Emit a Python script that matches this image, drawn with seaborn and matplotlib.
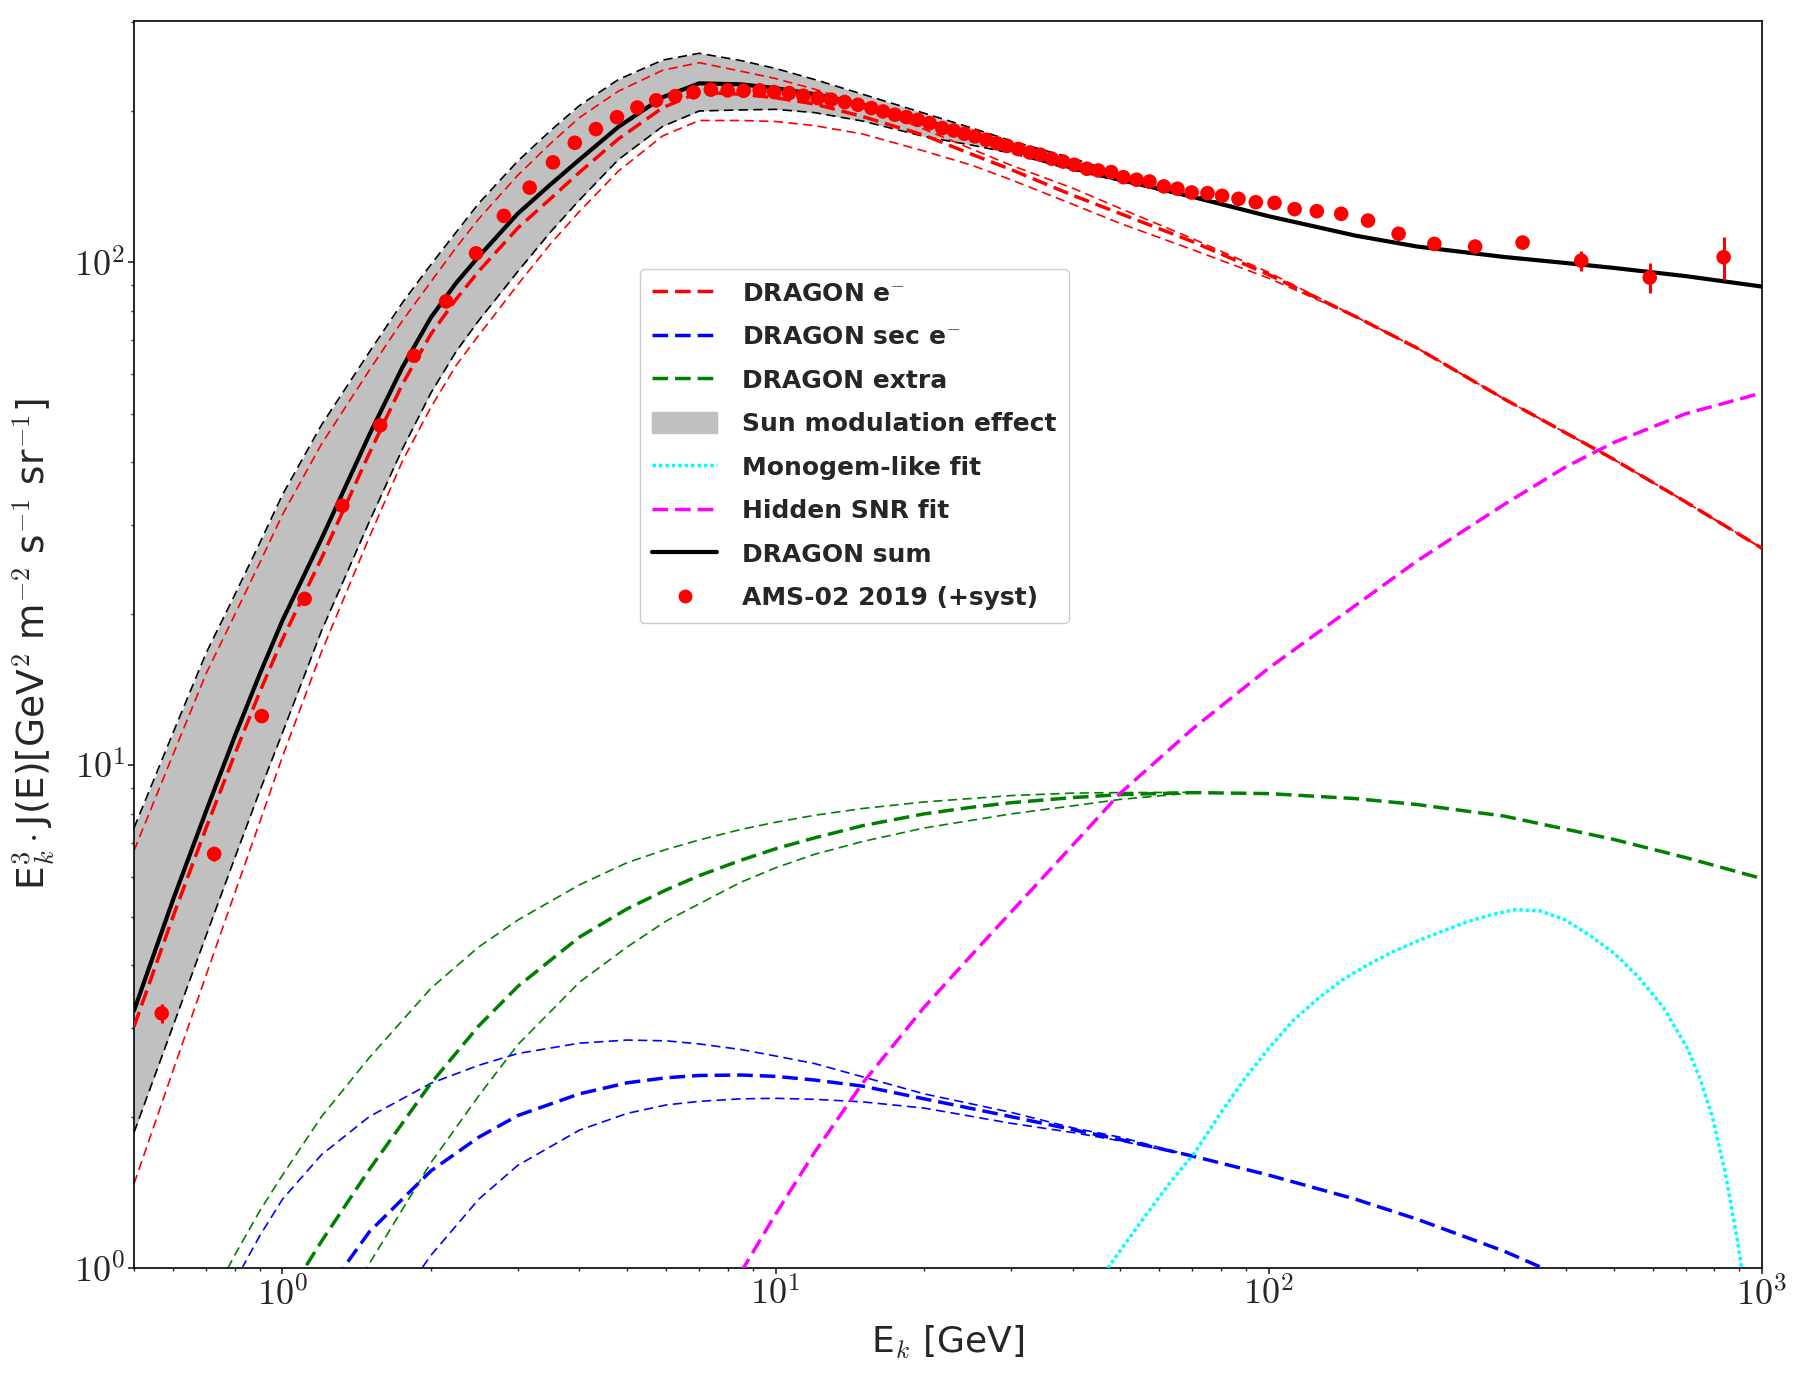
import numpy as np
import matplotlib
matplotlib.use("Agg")
import matplotlib.pyplot as plt
import seaborn as sns
from matplotlib.lines import Line2D
from matplotlib.patches import Patch
from matplotlib.ticker import FuncFormatter, LogLocator, NullFormatter

# ---------------- data ----------------
E_GRID = [0.5, 0.6, 0.7, 0.8, 0.9, 1.0, 1.2, 1.5, 1.75, 2.0, 2.25, 2.5, 3.0, 3.5, 4.0, 4.8, 5.9, 7.0,
          8.5, 10, 12, 15, 20, 25, 30, 40, 50, 70, 100, 150, 200, 300, 400, 500, 700, 1000]

SUM = [3.25, 5.4, 8.1, 11.4, 15.2, 19.4, 28.2, 45.4, 61.8, 77.7, 91.0, 102.7, 125, 143, 160, 186, 213, 227,
       226, 222, 216, 206, 192, 178, 168, 154, 146, 135, 123.5, 113, 107.5, 102.5, 99.7, 97.5, 93.9, 89.5]
SUM_UP = [7.5, 11.6, 16.7, 21.8, 27.7, 34.5, 47.5, 66.3, 83.1, 99, 114.8, 131, 159, 183, 205, 231, 252.5, 260.5,
          252, 243, 231, 216, 198, 185, 174.5, 161, 150, 136.5, 123.5, 113, 107.5, 102.5, 99.7, 97.5, 93.9, 89.5]
SUM_LO = [1.86, 3.03, 4.58, 6.53, 8.9, 11.6, 18.5, 30.5, 42.5, 55, 66.5, 76.6, 95.9, 115.1, 133, 160.1, 186.4, 200,
          201, 201.5, 198.5, 191, 178, 171, 165, 152.5, 145, 134.5, 123.5, 113, 107.5, 102.5, 99.7, 97.5, 93.9, 89.5]

ELEC = [3.02, 5.0, 7.5, 10.5, 14.0, 17.8, 25.8, 41.7, 57.2, 72, 84.5, 96, 117, 134, 151, 176, 203, 218,
        216, 212.5, 206.5, 195, 179, 164, 153, 136, 125, 110, 94.5, 78, 67.5, 53.5, 45.8, 40.6, 33.4, 27]
ELEC_UP = [6.76, 10.5, 15.2, 19.9, 25.3, 31.5, 43.5, 61, 76.5, 91.5, 107, 122, 149, 172.5, 194, 219, 241, 249.5,
           240, 232, 221, 206, 184, 168, 156, 140.5, 128, 111.5, 95.5, 78, 67.5, 53.5, 45.8, 40.6, 33.4, 27]
ELEC_LO = [1.47, 2.47, 3.82, 5.56, 7.72, 10.4, 16.8, 28.4, 40.2, 51.5, 62.4, 71.6, 90.3, 109, 126.2, 151.9, 178.4, 191.5,
           191.5, 190.6, 187, 180, 166.5, 156, 146, 130.5, 119.5, 106, 93, 78, 67.5, 53.5, 45.8, 40.6, 33.4, 27]

E_GREEN = [1.0, 1.2, 1.5, 2.0, 2.5, 3.0, 4.0, 5.0, 6.0, 7.0, 8.5, 10, 12, 15, 20, 25, 30, 40, 50, 70,
           100, 150, 200, 300, 500, 700, 1000]
GREEN = [0.85, 1.13, 1.57, 2.33, 3.03, 3.63, 4.55, 5.18, 5.65, 6.03, 6.47, 6.82, 7.17, 7.58, 8.0, 8.25, 8.42,
         8.62, 8.74, 8.82, 8.78, 8.58, 8.35, 7.92, 7.12, 6.55, 5.95]
E_GREEN_UP = [0.75, 0.8, 0.9, 1.0, 1.2, 1.5, 2.0, 2.5, 3.0, 4.0, 5.0, 6.0, 7.0, 8.5, 10, 12, 15, 20, 30, 40, 50, 70]
GREEN_UP = [0.94, 1.06, 1.3, 1.53, 2.0, 2.62, 3.6, 4.35, 4.92, 5.78, 6.4, 6.8, 7.1, 7.45, 7.7, 7.95, 8.2,
            8.45, 8.7, 8.8, 8.82, 8.83]
E_GREEN_LO = [1.45, 1.5, 2.0, 2.5, 3.0, 4.0, 5.0, 6.0, 7.0, 8.5, 10, 12, 15, 20, 30, 40, 50, 70]
GREEN_LO = [0.97, 1.02, 1.62, 2.2, 2.78, 3.7, 4.35, 4.9, 5.3, 5.85, 6.25, 6.65, 7.05, 7.5, 8.0, 8.3, 8.55, 8.81]

E_BLUE = [1.2, 1.5, 2.0, 2.5, 3.0, 4.0, 5.0, 6.0, 7.0, 8.5, 10, 12, 15, 20, 30, 50, 70, 100, 150, 200, 300, 400, 500]
BLUE = [0.87, 1.18, 1.56, 1.82, 2.01, 2.22, 2.335, 2.39, 2.415, 2.42, 2.405, 2.365, 2.3, 2.17, 2.0, 1.8, 1.67,
        1.53, 1.37, 1.25, 1.08, 0.955, 0.85]
E_BLUE_UP = [0.8, 0.9, 1.0, 1.2, 1.5, 2.0, 2.5, 3.0, 4.0, 5.0, 6.0, 7.0, 8.5, 10, 12, 15, 20, 30, 40, 50, 70]
BLUE_UP = [0.94, 1.16, 1.37, 1.68, 2.0, 2.33, 2.53, 2.67, 2.8, 2.84, 2.83, 2.79, 2.72, 2.64, 2.55, 2.4, 2.22,
           2.04, 1.9, 1.82, 1.67]
E_BLUE_LO = [1.85, 2.0, 2.5, 3.0, 4.0, 5.0, 6.0, 7.0, 8.5, 10, 12, 15, 20, 30, 40, 50, 70]
BLUE_LO = [0.95, 1.06, 1.37, 1.6, 1.88, 2.03, 2.11, 2.145, 2.17, 2.175, 2.165, 2.14, 2.08, 1.94, 1.86, 1.79, 1.67]

E_SNR = [8.5, 10, 12, 15, 20, 25, 30, 40, 50, 70, 100, 150, 200, 300, 400, 500, 700, 1000]
SNR = [0.98, 1.28, 1.7, 2.33, 3.3, 4.2, 5.1, 6.93, 8.8, 11.8, 15.6, 20.8, 25.5, 33, 39.2, 43.8, 50, 55]

E_MONO = [44.7, 50.1, 56.2, 63.1, 70.8, 79.4, 89.1, 100, 112, 126, 141, 158, 178, 200, 224, 251, 282, 316,
          355, 398, 447, 501, 562, 631, 708, 750, 794, 841, 891, 912, 955]
MONO = [0.93, 1.087, 1.27, 1.48, 1.697, 2.016, 2.37, 2.735, 3.105, 3.44, 3.74, 4.0, 4.25, 4.47, 4.67, 4.87, 5.04,
        5.16, 5.13, 4.93, 4.59, 4.23, 3.79, 3.30, 2.72, 2.37, 1.99, 1.56, 1.14, 0.98, 0.69]

AMS_E = [0.569, 0.727, 0.908, 1.109, 1.322, 1.578, 1.847, 2.147, 2.469, 2.812,
         3.171, 3.536, 3.915, 4.321, 4.768, 5.243, 5.724, 6.258, 6.815, 7.389,
         7.99, 8.61, 9.28, 9.93, 10.65, 11.38, 12.17, 12.96, 13.81, 14.69,
         15.63, 16.51, 17.45, 18.41, 19.43, 20.52, 21.76, 22.95, 24.13, 25.37,
         26.72, 28.08, 29.48, 31.04, 32.75, 34.43, 36.31, 38.24, 40.35, 42.77,
         45.11, 47.91, 50.71, 53.94, 57.28, 61.24, 65.27, 69.74, 75.1, 80.4,
         86.8, 94.1, 102.7, 112.8, 125.1, 140.2, 158.9, 183.3, 216.6, 262,
         327, 430, 592, 836]
AMS_Y = [3.21, 6.66, 12.52, 21.42, 32.81, 47.40, 65.22, 83.64, 104.2, 123.7,
         140.8, 158.1, 172.9, 184.1, 194.4, 203.2, 210.0, 214.1, 217.9, 220.5,
         219.8, 219.4, 219.8, 218.1, 217.1, 214.5, 212.2, 210.6, 208.4, 205.8,
         202.7, 199.6, 196.6, 194.5, 192.1, 189.2, 184.9, 182.9, 180.2, 178.0,
         175.3, 172.6, 170.5, 168.0, 165.4, 163.7, 160.7, 158.7, 156.3, 153.5,
         152.3, 151.2, 147.7, 146.0, 144.8, 141.6, 140.1, 137.7, 137.3, 135.6,
         133.8, 131.7, 131.3, 127.6, 126.4, 124.9, 121.1, 114.0, 108.8, 107.5,
         109.5, 100.8, 93.3, 102.4]
AMS_ERR = [0.14, 0.2, 0.0, 0.0, 0.0, 0.0, 0.0, 0.0, 0.0, 0.0,
           0.0, 0.0, 0.0, 0.0, 0.0, 0.0, 0.0, 0.0, 0.0, 0.0,
           0.0, 0.0, 0.0, 0.0, 0.0, 0.0, 0.0, 0.0, 0.0, 0.0,
           0.0, 0.0, 0.0, 0.0, 0.0, 0.0, 0.0, 0.0, 0.0, 0.0,
           0.0, 0.0, 0.0, 0.0, 0.0, 0.0, 0.0, 0.0, 0.0, 0.0,
           0.0, 0.0, 0.0, 0.0, 0.0, 0.0, 0.0, 0.0, 0.0, 0.0,
           0.0, 0.0, 0.0, 0.0, 0.0, 0.0, 0.0, 1.5, 2.0, 2.5,
           3.0, 4.5, 6.5, 10.0]

LEGEND_LABELS = [r"DRAGON e$^{-}$", r"DRAGON sec e$^{-}$", "DRAGON extra", "Sun modulation effect",
                 "Monogem-like fit", "Hidden SNR fit", "DRAGON sum", "AMS-02 2019 (+syst)"]

# ---------------- style ----------------
sns.set_style("ticks")
plt.rcParams['font.family'] = ['DejaVu Sans']
plt.rcParams['mathtext.fontset'] = 'cm'
plt.rcParams['axes.linewidth'] = 1.2

THICK = (0, (4.5, 2.0))
THIN = (0, (5.6, 3.2))
DOT = (0, (1, 0.85))

fig = plt.figure(figsize=(18.02, 13.85), dpi=100)
ax = fig.add_axes([134 / 1802, 1 - 1268 / 1385, 1628 / 1802, 1247 / 1385])
ax.set_xscale('log')
ax.set_yscale('log')


def curve(x, y, color, ls, lw, z):
    sns.lineplot(x=x, y=y, ax=ax, color=color, linestyle=ls, linewidth=lw,
                 sort=False, estimator=None, legend=False, zorder=z)


# modulation band
ax.fill_between(E_GRID, SUM_LO, SUM_UP, color='silver', linewidth=0, zorder=1)
curve(E_GRID, SUM_UP, 'black', THIN, 1.2, 2)
curve(E_GRID, SUM_LO, 'black', THIN, 1.2, 2)

# thin modulation variants
curve(E_GRID, ELEC_UP, 'red', THIN, 1.2, 2.5)
curve(E_GRID, ELEC_LO, 'red', THIN, 1.2, 2.5)
curve(E_GREEN_UP, GREEN_UP, 'green', THIN, 1.2, 2.5)
curve(E_GREEN_LO, GREEN_LO, 'green', THIN, 1.2, 2.5)
curve(E_BLUE_UP, BLUE_UP, 'blue', THIN, 1.2, 2.5)
curve(E_BLUE_LO, BLUE_LO, 'blue', THIN, 1.2, 2.5)

# main components
curve(E_GRID, SUM, 'black', '-', 3.0, 3)
curve(E_GRID, ELEC, 'red', THICK, 2.5, 3.5)
curve(E_BLUE, BLUE, 'blue', THICK, 2.5, 3.5)
curve(E_GREEN, GREEN, 'green', THICK, 2.5, 3.5)
curve(E_MONO, MONO, 'cyan', DOT, 2.5, 3.5)
curve(E_SNR, SNR, 'magenta', THICK, 2.5, 3.5)

# AMS-02 data
ax.errorbar(AMS_E, AMS_Y, yerr=AMS_ERR, fmt='none', ecolor='red', elinewidth=2.2, zorder=5)
sns.scatterplot(x=AMS_E, y=AMS_Y, ax=ax, color='red', s=110, edgecolor='none', linewidth=0,
                zorder=6, legend=False)

ax.set_xlim(0.5, 1000)
ax.set_ylim(1, 302)

fmt = FuncFormatter(lambda v, p: r'$10^{%d}$' % int(round(np.log10(v))))
ax.xaxis.set_major_locator(LogLocator(base=10, numticks=10))
ax.yaxis.set_major_locator(LogLocator(base=10, numticks=10))
ax.xaxis.set_major_formatter(fmt)
ax.yaxis.set_major_formatter(fmt)
ax.xaxis.set_minor_formatter(NullFormatter())
ax.yaxis.set_minor_formatter(NullFormatter())
ax.tick_params(which='major', length=4.5, width=1.2, labelsize=26, pad=2, direction='out')
ax.tick_params(which='minor', length=2.5, width=1.0, direction='out')
for s in ax.spines.values():
    s.set_visible(True)
    s.set_color('black')

ax.set_xlabel(r"E$_k$ [GeV]", fontsize=26, labelpad=8)
ax.set_ylabel(r"E$_k^3\cdot$J(E)[GeV$^2$ m$^{-2}$ s$^{-1}$ sr$^{-1}$]", fontsize=27, labelpad=12)

handles = [
    Line2D([], [], color='red', lw=2.5, ls=THICK),
    Line2D([], [], color='blue', lw=2.5, ls=THICK),
    Line2D([], [], color='green', lw=2.5, ls=THICK),
    Patch(facecolor='silver', edgecolor='silver'),
    Line2D([], [], color='cyan', lw=2.5, ls=DOT),
    Line2D([], [], color='magenta', lw=2.5, ls=THICK),
    Line2D([], [], color='black', lw=3.0, ls='-'),
    Line2D([], [], color='red', marker='o', ls='none', markersize=10, markeredgewidth=0),
]
leg = ax.legend(handles, LEGEND_LABELS, loc='upper left', bbox_to_anchor=(0.303, 0.811),
                prop={'weight': 'bold', 'size': 18}, handlelength=2.6, handleheight=0.9,
                handletextpad=1.0, labelspacing=0.78, borderpad=0.5, frameon=True,
                fancybox=True, framealpha=1.0, edgecolor='0.8')
leg.set_zorder(10)

fig.savefig("out.png", dpi=100)
